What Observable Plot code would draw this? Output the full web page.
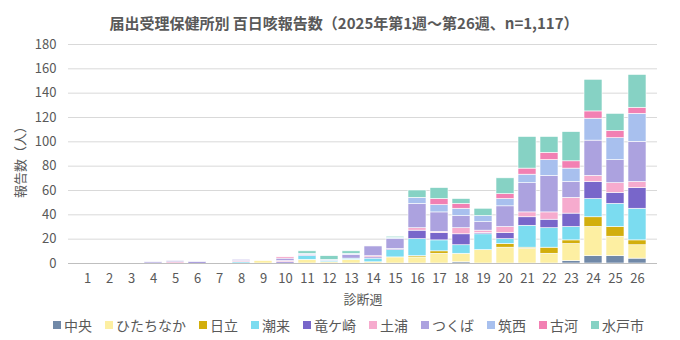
<!DOCTYPE html>
<html>
<head>
<meta charset="utf-8">
<script src="https://cdn.jsdelivr.net/npm/d3@7"></script>
<script src="https://cdn.jsdelivr.net/npm/@observablehq/plot@0.6"></script>
<style>
  html, body { margin: 0; padding: 0; background: #fff; }
  body { width: 680px; height: 340px; overflow: hidden; font-family: "Noto Sans CJK JP", "Noto Sans", sans-serif; color: #595959; }
  #title { height: 34px; line-height: 46px; text-align: center; font-size: 15px; font-weight: bold; padding-left: 8px; }
  #legend { display: flex; justify-content: center; align-items: center; font-size: 14px; height: 30px; padding-left: 30px; }
  #legend .item { display: flex; align-items: center; margin-right: 13px; }
  #legend .sw { width: 8px; height: 8px; margin-right: 3px; display: inline-block; }
</style>
</head>
<body>
<div id="title">届出受理保健所別 百日咳報告数（2025年第1週～第26週、n=1,117）</div>
<div id="chart"></div>
<div id="legend"></div>
<script>
const weeks = d3.range(1, 27);
const regions = ["中央", "ひたちなか", "日立", "潮来", "竜ケ崎", "土浦", "つくば", "筑西", "古河", "水戸市"];
const colors = ["#7189a8", "#fdefa2", "#d2ae0c", "#7bdcf0", "#7866ca", "#f6abce", "#aca2df", "#a8c0ee", "#f280b3", "#86d2c4"];

//                 1  2  3  4  5  6  7  8  9 10 11 12 13 14 15 16 17 18 19 20 21 22 23 24 25 26
const chuo      = [0, 0, 0, 0, 0, 0, 0, 0, 0, 0, 0, 0, 0, 0, 0, 0, 0, 1, 0, 0, 0, 0, 2, 6, 6, 4];
const hitachinaka = [0, 0, 0, 0, 0, 0, 0, 0, 2, 0, 3, 1, 3, 1, 5, 5, 8, 7, 11, 13, 12, 8, 14, 24, 16, 11];
const hitachi   = [0, 0, 0, 0, 0, 0, 0, 0, 0, 0, 0, 0, 0, 0, 0, 1, 2, 0, 0, 3, 1, 5, 3, 8, 8, 4];
const itako     = [0, 0, 0, 0, 0, 0, 0, 1, 0, 0, 3, 1, 1, 3, 6, 14, 9, 7, 13, 4, 18, 16, 11, 15, 19, 26];
const ryugasaki = [0, 0, 0, 0, 0, 1, 0, 0, 0, 1, 0, 0, 0, 1, 1, 7, 6, 9, 1, 5, 7, 7, 11, 14, 9, 17];
const tsuchiura = [0, 0, 0, 0, 1, 0, 0, 1, 0, 1, 0, 0, 0, 1, 0, 2, 1, 5, 2, 5, 4, 6, 13, 5, 8, 5];
const tsukuba   = [0, 0, 0, 1, 1, 0, 0, 1, 0, 2, 1, 0, 3, 8, 8, 20, 16, 10, 7, 17, 24, 30, 13, 29, 19, 33];
const chikusei  = [0, 0, 0, 0, 0, 0, 0, 0, 0, 0, 1, 1, 1, 0, 1, 5, 6, 6, 5, 6, 7, 13, 11, 18, 18, 23];
const koga      = [0, 0, 0, 0, 0, 0, 0, 0, 0, 1, 0, 0, 0, 0, 0, 0, 5, 4, 0, 4, 5, 6, 6, 6, 6, 5];
const mito      = [0, 0, 0, 0, 0, 0, 0, 0, 0, 0, 2, 3, 2, 0, 1, 6, 9, 4, 6, 13, 26, 13, 24, 26, 14, 27];
const yTicks = [0, 20, 40, 60, 80, 100, 120, 140, 160, 180];

const series = [chuo, hitachinaka, hitachi, itako, ryugasaki, tsuchiura, tsukuba, chikusei, koga, mito];
const data = [];
weeks.forEach((w, i) => {
  series.forEach((s, j) => {
    if (s[i] > 0) data.push({week: w, region: regions[j], value: s[i]});
  });
});

const textColor = "#595959";
const chart = Plot.plot({
  width: 680,
  height: 276,
  marginTop: 10,
  marginLeft: 68,
  marginRight: 23,
  marginBottom: 47,
  style: {fontFamily: "'Noto Sans CJK JP', 'Noto Sans', sans-serif", fontSize: "13px", color: textColor, background: "#fff"},
  x: {type: "band", domain: weeks, padding: 0.17, label: null},
  y: {domain: [0, 180], label: null},
  color: {domain: regions, range: colors},
  marks: [
    Plot.gridY(yTicks, {stroke: "#d9d9d9", strokeOpacity: 1}),
    Plot.axisY(yTicks, {tickSize: 0, tickPadding: 12, label: null, fill: textColor, fontSize: 13}),
    Plot.axisX(weeks, {tickSize: 0, tickPadding: 10, label: null, fill: textColor, fontSize: 13}),
    Plot.barY(data, Plot.stackY({x: "week", y: "value", fill: "region", order: regions, stroke: "white", strokeWidth: 0.6})),
    Plot.ruleY([0], {stroke: "#bfbfbf"}),
    Plot.text(["診断週"], {frameAnchor: "bottom", dy: 40, fill: textColor, fontSize: 13}),
    Plot.text(["報告数（人）"], {frameAnchor: "left", textAnchor: "middle", dx: -48, dy: 5, rotate: -90, fill: textColor, fontSize: 13})
  ]
});
document.getElementById("chart").appendChild(chart);

const legend = document.getElementById("legend");
regions.forEach((r, i) => {
  const item = document.createElement("div");
  item.className = "item";
  const sw = document.createElement("span");
  sw.className = "sw";
  sw.style.background = colors[i];
  const t = document.createElement("span");
  t.textContent = r;
  item.appendChild(sw);
  item.appendChild(t);
  legend.appendChild(item);
});
</script>
</body>
</html>
